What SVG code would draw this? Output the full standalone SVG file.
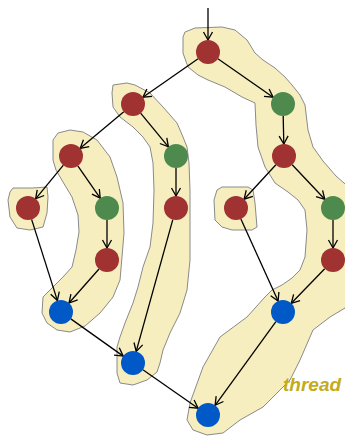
<svg xmlns="http://www.w3.org/2000/svg" width="345" height="437" viewBox="0 0 345 437">
<style>
.blob{fill:#f7eebf;stroke:#8a8a8a;stroke-width:1;stroke-linejoin:round}
.r{fill:#a03232}
.g{fill:#4e8a4e}
.b{fill:#0059c6}
.e{stroke:#000;stroke-width:1.3;fill:none;marker-end:url(#arr)}
.lbl{font-family:"Liberation Sans",Arial,sans-serif;font-weight:bold;font-style:italic;font-size:19px;fill:#c3ab1a}
</style>
<defs>
<marker id="arr" markerUnits="userSpaceOnUse" markerWidth="12" markerHeight="12" viewBox="-10 -6 12 12" refX="0" refY="0" orient="auto">
<path d="M-8,-4.5 L0,0 L-8,4.5" fill="none" stroke="#000" stroke-width="1.3"/>
</marker>
</defs>
<rect width="345" height="437" fill="#fff"/>
<g id="threads">
<path id="thread-right" class="blob" d="M185,32 L195,28 L222,27 L235,30 L247,40 L255,53 L263,60 L275,68 L285,77 L292,85 L300,95 L305,105 L308,130 L313,147 L323,161 L336,176 L352,190 L360,220 L360,290 L345,308 L330,317 L313,330 L300,360 L290,380 L263,407 L240,420 L223,433 L207,435 L193,430 L187,420 L190,403 L203,367 L220,337 L247,317 L265,297 L272,290 L282,285 L292,278 L300,270 L305,257 L307,230 L305,210 L298,200 L288,192 L275,183 L265,167 L258,147 L256,125 L255,103 L242,97 L225,87 L208,80 L198,75 L188,67 L183,53 L183,37 Z"/>
<path id="thread-mid" class="blob" d="M112,93 L113,85 L127,83 L135,85 L150,93 L163,107 L177,123 L183,137 L187,147 L189,163 L190,190 L190,260 L187,290 L180,313 L170,333 L163,350 L160,363 L157,372 L147,380 L133,385 L120,383 L117,373 L117,347 L120,337 L125,323 L133,303 L138,287 L143,267 L150,247 L153,223 L154,190 L153,163 L150,147 L143,137 L133,127 L120,117 L113,107 Z"/>
<path id="thread-left" class="blob" d="M53,147 L53,140 L58,133 L70,130 L83,132 L97,140 L110,157 L117,177 L123,203 L124,233 L122,257 L120,280 L113,297 L100,313 L85,326 L70,332 L57,330 L47,323 L42,313 L43,297 L53,287 L63,277 L72,267 L76,250 L79,232 L78,215 L72,197 L63,182 L56,170 L53,160 Z"/>
<path id="thread-g" class="blob" d="M10,192 L13,188 L33,188 L47,187 L48,197 L47,213 L43,227 L30,230 L17,228 L10,217 L8,200 Z"/>
<path id="thread-j" class="blob" d="M217,190 L222,187 L248,187 L253,190 L255,203 L257,227 L252,230 L232,230 L222,227 L215,220 L214,200 Z"/>
</g>
<g id="connectors">
<line class="e" x1="208" y1="8" x2="208" y2="40"/>
<line class="e" x1="198.1" y1="58.8" x2="142.9" y2="97.2"/>
<line class="e" x1="217.9" y1="58.8" x2="273.1" y2="97.2"/>
<line class="e" x1="123.8" y1="111.7" x2="80.2" y2="148.3"/>
<line class="e" x1="140.6" y1="113.2" x2="168.4" y2="146.8"/>
<line class="e" x1="283.2" y1="116" x2="283.8" y2="144"/>
<line class="e" x1="63.4" y1="165.2" x2="35.6" y2="198.8"/>
<line class="e" x1="77.8" y1="165.9" x2="100.2" y2="198.1"/>
<line class="e" x1="176" y1="168" x2="176" y2="196"/>
<line class="e" x1="275.9" y1="164.8" x2="244.1" y2="199.2"/>
<line class="e" x1="292.2" y1="164.7" x2="324.8" y2="199.3"/>
<line class="e" x1="107" y1="220" x2="107" y2="248"/>
<line class="e" x1="333" y1="220" x2="333" y2="248"/>
<line class="e" x1="31.6" y1="219.4" x2="57.4" y2="300.6"/>
<line class="e" x1="99" y1="269" x2="69" y2="303"/>
<line class="e" x1="172.8" y1="219.6" x2="136.2" y2="351.4"/>
<line class="e" x1="70.8" y1="318.9" x2="123.2" y2="356.1"/>
<line class="e" x1="240.9" y1="218.9" x2="278.1" y2="301.1"/>
<line class="e" x1="324.7" y1="268.7" x2="291.3" y2="303.3"/>
<line class="e" x1="275.9" y1="321.7" x2="215.1" y2="405.3"/>
<line class="e" x1="142.9" y1="369.8" x2="198.1" y2="408.2"/>
</g>
<g id="nA"><circle class="r" cx="208" cy="52" r="12"/></g>
<g id="nB"><circle class="r" cx="133" cy="104" r="12"/></g>
<g id="nC"><circle class="g" cx="283" cy="104" r="12"/></g>
<g id="nD"><circle class="r" cx="71" cy="156" r="12"/></g>
<g id="nE"><circle class="g" cx="176" cy="156" r="12"/></g>
<g id="nF"><circle class="r" cx="284" cy="156" r="12"/></g>
<g id="nG"><circle class="r" cx="28" cy="208" r="12"/></g>
<g id="nH"><circle class="g" cx="107" cy="208" r="12"/></g>
<g id="nI"><circle class="r" cx="176" cy="208" r="12"/></g>
<g id="nJ"><circle class="r" cx="236" cy="208" r="12"/></g>
<g id="nK"><circle class="g" cx="333" cy="208" r="12"/></g>
<g id="nL"><circle class="r" cx="107" cy="260" r="12"/></g>
<g id="nM"><circle class="r" cx="333" cy="260" r="12"/></g>
<g id="nN"><circle class="b" cx="61" cy="312" r="12"/></g>
<g id="nO"><circle class="b" cx="133" cy="363" r="12"/></g>
<g id="nP"><circle class="b" cx="283" cy="312" r="12"/></g>
<g id="nQ"><circle class="b" cx="208" cy="415" r="12"/></g>
<g id="label"><text class="lbl" x="283" y="391">thread</text></g>
</svg>
